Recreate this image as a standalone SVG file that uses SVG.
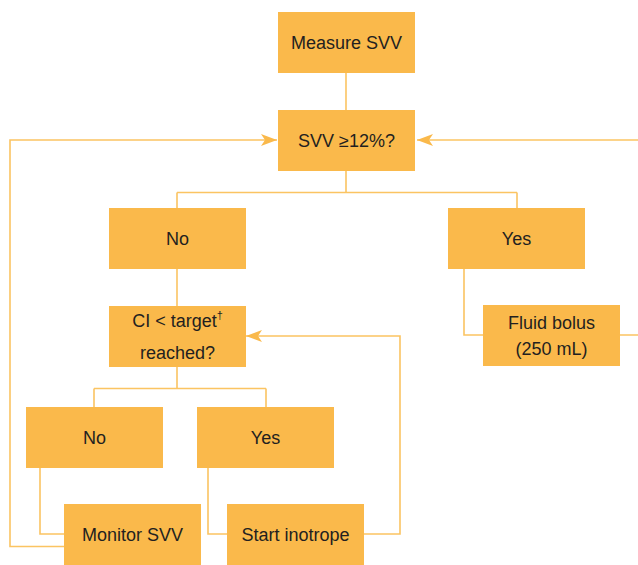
<svg xmlns="http://www.w3.org/2000/svg" width="638" height="565" viewBox="0 0 638 565">
<style>
.box{fill:#FAB94B}
.t{font-family:"Liberation Sans",Arial,sans-serif;font-size:18px;fill:#231F20;text-anchor:middle}
.c{fill:none;stroke:#FBC462;stroke-width:1.6}
</style>
<defs>
<marker id="ah" markerUnits="userSpaceOnUse" markerWidth="16" markerHeight="12" refX="16" refY="6" orient="auto">
<path d="M0,0 L16,6 L0,12 L4,6 z" fill="#FAB94B"/>
</marker>
</defs>
<rect width="638" height="565" fill="#fff"/>
<g id="connectors">
<path class="c" d="M346,73 V110"/>
<path class="c" d="M346,171 V192.5 M177,192.5 H517 M177,192.5 V208 M517,192.5 V208"/>
<path class="c" d="M638,140 H417" marker-end="url(#ah)"/>
<path class="c" d="M64,546.5 H10 V140 H277" marker-end="url(#ah)"/>
<path class="c" d="M177,269 V306"/>
<path class="c" d="M464,269 V335 H483 M620,335 H638"/>
<path class="c" d="M177,367 V388.5 M94,388.5 H266 M94,388.5 V407 M266,388.5 V407"/>
<path class="c" d="M40,468 V534 H64"/>
<path class="c" d="M208,468 V534 H227"/>
<path class="c" d="M364,534 H400 V336 H246" marker-end="url(#ah)"/>
</g>
<g id="measure"><rect class="box" x="278" y="12" width="137" height="61"/><text class="t" x="346.5" y="49">Measure SVV</text></g>
<g id="svv"><rect class="box" x="278" y="110" width="137" height="61"/><text class="t" x="346.5" y="147">SVV ≥12%?</text></g>
<g id="no1"><rect class="box" x="109" y="208" width="137" height="61"/><text class="t" x="177.5" y="245">No</text></g>
<g id="yes1"><rect class="box" x="448" y="208" width="137" height="61"/><text class="t" x="516.5" y="245">Yes</text></g>
<g id="fluid"><rect class="box" x="483" y="305" width="137" height="61"/><text class="t" x="551.5" y="329">Fluid bolus</text><text class="t" x="551.5" y="355">(250 mL)</text></g>
<g id="ci"><rect class="box" x="109" y="306" width="137" height="61"/><text class="t" x="177.5" y="327">CI &lt; target<tspan font-size="11" dy="-8">†</tspan></text><text class="t" x="177.5" y="359">reached?</text></g>
<g id="no2"><rect class="box" x="26" y="407" width="137" height="61"/><text class="t" x="94.5" y="444">No</text></g>
<g id="yes2"><rect class="box" x="197" y="407" width="137" height="61"/><text class="t" x="265.5" y="444">Yes</text></g>
<g id="monitor"><rect class="box" x="64" y="504" width="137" height="61"/><text class="t" x="132.5" y="541">Monitor SVV</text></g>
<g id="inotrope"><rect class="box" x="227" y="504" width="137" height="61"/><text class="t" x="295.5" y="541">Start inotrope</text></g>
</svg>
